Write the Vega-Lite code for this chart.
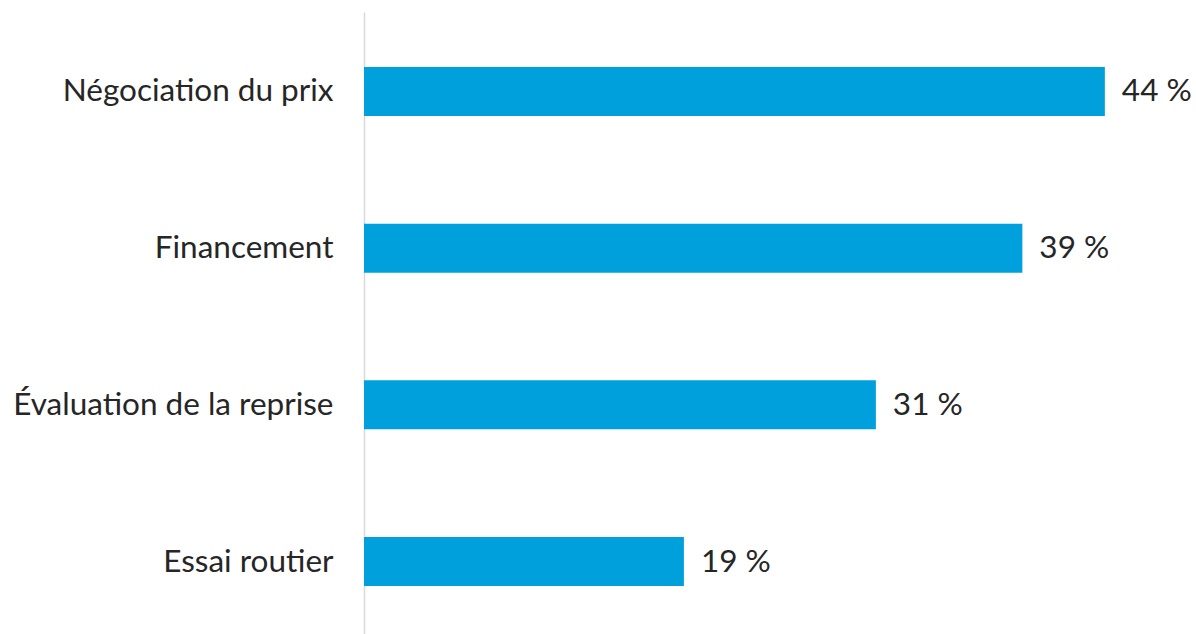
{
  "$schema": "https://vega.github.io/schema/vega-lite/v6.json",
  "autosize": "none",
  "width": 820,
  "height": 629,
  "padding": {"left": 364, "top": 12, "right": 12, "bottom": 0},
  "background": "white",
  "config": {"view": {"stroke": null}, "font": "Lato"},
  "data": {
    "values": [
      {"categorie": "Négociation du prix", "valeur": 44.0, "etiquette": "44 %"},
      {"categorie": "Financement", "valeur": 39.1, "etiquette": "39 %"},
      {"categorie": "Évaluation de la reprise", "valeur": 30.4, "etiquette": "31 %"},
      {"categorie": "Essai routier", "valeur": 19.0, "etiquette": "19 %"}
    ]
  },
  "encoding": {
    "y": {
      "field": "categorie",
      "type": "nominal",
      "sort": null,
      "scale": {"paddingInner": 0.6875, "paddingOuter": 0.351},
      "axis": {
        "title": null,
        "ticks": false,
        "domainColor": "#d9d9d9",
        "domainWidth": 1.5,
        "labelFont": "Lato",
        "labelFontSize": 31.5,
        "labelColor": "#262626",
        "labelPadding": 31,
        "labelOffset": 1,
        "labelLimit": 400
      }
    },
    "x": {
      "field": "valeur",
      "type": "quantitative",
      "scale": {"domain": [0, 48.7], "nice": false},
      "axis": null
    }
  },
  "layer": [
    {"mark": {"type": "bar", "color": "#00A0DC"}},
    {
      "mark": {"type": "text", "align": "left", "baseline": "middle", "dx": 17, "dy": 1, "font": "Lato", "fontSize": 31.5, "color": "#262626"},
      "encoding": {"text": {"field": "etiquette"}}
    }
  ]
}
